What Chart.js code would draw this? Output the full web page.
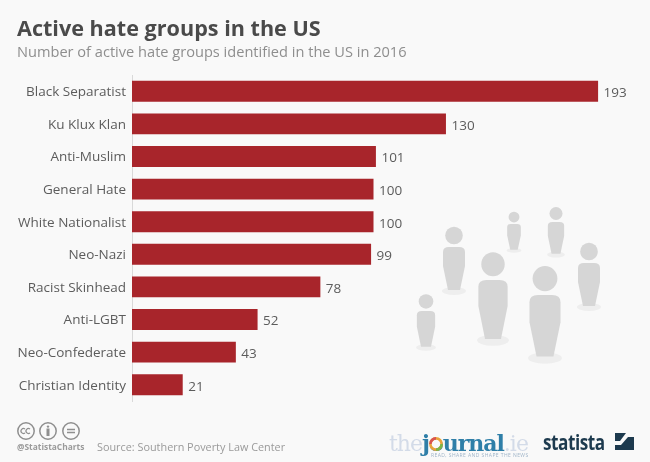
<!DOCTYPE html>
<html>
<head>
<meta charset="utf-8">
<script src="https://cdn.jsdelivr.net/npm/chart.js@4"></script>
<style>
  html, body { margin: 0; padding: 0; background: #f9f9f9; }
  body { position: relative; width: 650px; height: 462px; overflow: hidden; font-family: "Open Sans", sans-serif; }
  #people, #myChart { position: absolute; left: 0; top: 0; }
  .txt { position: absolute; white-space: nowrap; }
  #title { left: 17px; top: 13px; font-size: 21.6px; font-weight: 700; color: #4a4a4a; }
  #subtitle { left: 17px; top: 41px; font-size: 14.6px; color: #8e8e8e; }
  #handle { left: 17px; top: 441px; font-size: 8.4px; font-weight: 700; color: #9a9a9a; }
  #source { left: 97px; top: 439px; font-size: 10.85px; color: #9a9a9a; }
  #journal { left: 389px; top: 430px; font-family: "DejaVu Serif", serif; font-size: 22px; font-weight: 700; letter-spacing: -1px; color: #2f7fa8; }
  #journal .pale { color: #d3dbe8; font-weight: 400; }
  #ring { position: absolute; left: 427px; top: 435px; }
  #tagline { left: 431px; top: 452px; font-size: 5px; color: #9fb4c8; letter-spacing: .42px; }
  #statista { left: 543px; top: 426px; font-size: 22px; font-weight: 700; letter-spacing: -.6px; color: #1d3a4e; transform: scaleX(.78); transform-origin: left center; }
  #cc { position: absolute; left: 17px; top: 422px; }
  #logo { position: absolute; left: 615px; top: 433px; }
</style>
</head>
<body>

<svg id="people" width="650" height="462">
  <defs>
    <g id="person">
      <ellipse cx="0" cy="44" rx="12" ry="4" fill="#eeeeee"/>
      <circle cx="0" cy="-11.5" r="8.8" fill="#d6d6d6"/>
      <path d="M-11 5 Q-11 0 -5 0 L5 0 Q11 0 11 5 L11 19 L6 43 L-6 43 L-11 19 Z" fill="#d6d6d6"/>
    </g>
  </defs>
  <use href="#person" transform="translate(454,247)"/>
  <use href="#person" transform="translate(493,280) scale(1.33,1.37)"/>
  <use href="#person" transform="translate(545,295) scale(1.41,1.43)"/>
  <use href="#person" transform="translate(426,311) scale(.83,.83)"/>
  <use href="#person" transform="translate(514,224) scale(.62,.6)"/>
  <use href="#person" transform="translate(556,222) scale(.74,.74)"/>
  <use href="#person" transform="translate(589,263)"/>
</svg>

<canvas id="myChart" width="650" height="462"></canvas>

<div class="txt" id="title">Active hate groups in the US</div>
<div class="txt" id="subtitle">Number of active hate groups identified in the US in 2016</div>

<svg id="cc" width="66" height="20" fill="none" stroke="#8f8f8f" stroke-width="1.5">
  <circle cx="9" cy="9" r="8.2"/>
  <circle cx="31" cy="9" r="8.2"/>
  <circle cx="54" cy="9" r="8.2"/>
  <path d="M8 7 A2.5 2.5 0 1 0 8 11 M13 7 A2.5 2.5 0 1 0 13 11" stroke-width="1.2"/>
  <path d="M50 7.5 H58 M50 10.5 H58"/>
  <circle cx="31" cy="4.6" r="1.2" fill="#8f8f8f" stroke="none"/>
  <path d="M31 6.5 V14" stroke-width="3"/>
</svg>
<div class="txt" id="handle">@StatistaCharts</div>
<div class="txt" id="source">Source: Southern Poverty Law Center</div>

<div class="txt" id="journal"><span class="pale">the</span>journal<span class="pale">.ie</span></div>
<svg id="ring" width="18" height="18" fill="#f9f9f9" stroke-width="2.6">
  <circle cx="9" cy="9" r="5.6" stroke="#e8a33a"/>
  <path d="M3.4 9 A5.6 5.6 0 0 1 9 3.4" fill="none" stroke="#d9534f"/>
  <path d="M9 14.6 A5.6 5.6 0 0 0 14.6 9" fill="none" stroke="#7ab648"/>
</svg>
<div class="txt" id="tagline">READ, SHARE AND SHAPE THE NEWS</div>
<div class="txt" id="statista">statista</div>
<svg id="logo" width="19" height="17"><rect width="19" height="17" fill="#1d3a4e"/><path d="M0 12 L6 12 L13 4 L19 4 L19 0 L11 0 L5 8 L0 8 Z" fill="#f9f9f9"/></svg>

<script>
  var categories = [
    "Black Separatist",
    "Ku Klux Klan",
    "Anti-Muslim",
    "General Hate",
    "White Nationalist",
    "Neo-Nazi",
    "Racist Skinhead",
    "Anti-LGBT",
    "Neo-Confederate",
    "Christian Identity",
  ];
  var groups = [193, 130, 101, 100, 100, 99, 78, 52, 43, 21];

  // value next to the end of each bar
  var valueLabels = {
    id: "valueLabels",
    afterDatasetsDraw: (chart) => {
      var ctx = chart.ctx;
      ctx.save();
      ctx.font = "13.5px 'Open Sans'";
      ctx.fillStyle = "#5c5c5c";
      ctx.textBaseline = "middle";
      chart.getDatasetMeta(0).data.forEach((bar, i) => {
        ctx.fillText(groups[i], bar.x + 5.5, bar.y + 2);
      });
      ctx.restore();
    },
  };

  var ctx = document.getElementById("myChart").getContext("2d");
  var chart = new Chart(ctx, {
    type: "bar",
    plugins: [valueLabels],
    data: {
      labels: categories,
      datasets: [
        {
          data: groups,
          backgroundColor: "#a8252b",
          barPercentage: 0.64,
          categoryPercentage: 1,
        },
      ],
    },
    options: {
      indexAxis: "y",
      responsive: false,
      animation: false,
      layout: { padding: { left: 0, right: 35, top: 75, bottom: 61 } },
      plugins: {
        legend: { display: false },
        tooltip: { enabled: false },
      },
      scales: {
        x: { display: false, min: 0, max: 200 },
        y: {
          afterFit: (scale) => { scale.width = 132; },
          border: { color: "#d9d9d9", width: 1 },
          grid: { display: false, drawTicks: false },
          ticks: {
            color: "#5c5c5c",
            padding: 6,
            labelOffset: 1,
            autoSkip: false,
            font: { family: "'Open Sans'", size: 13.5 },
          },
        },
      },
    },
  });
</script>
</body>
</html>
